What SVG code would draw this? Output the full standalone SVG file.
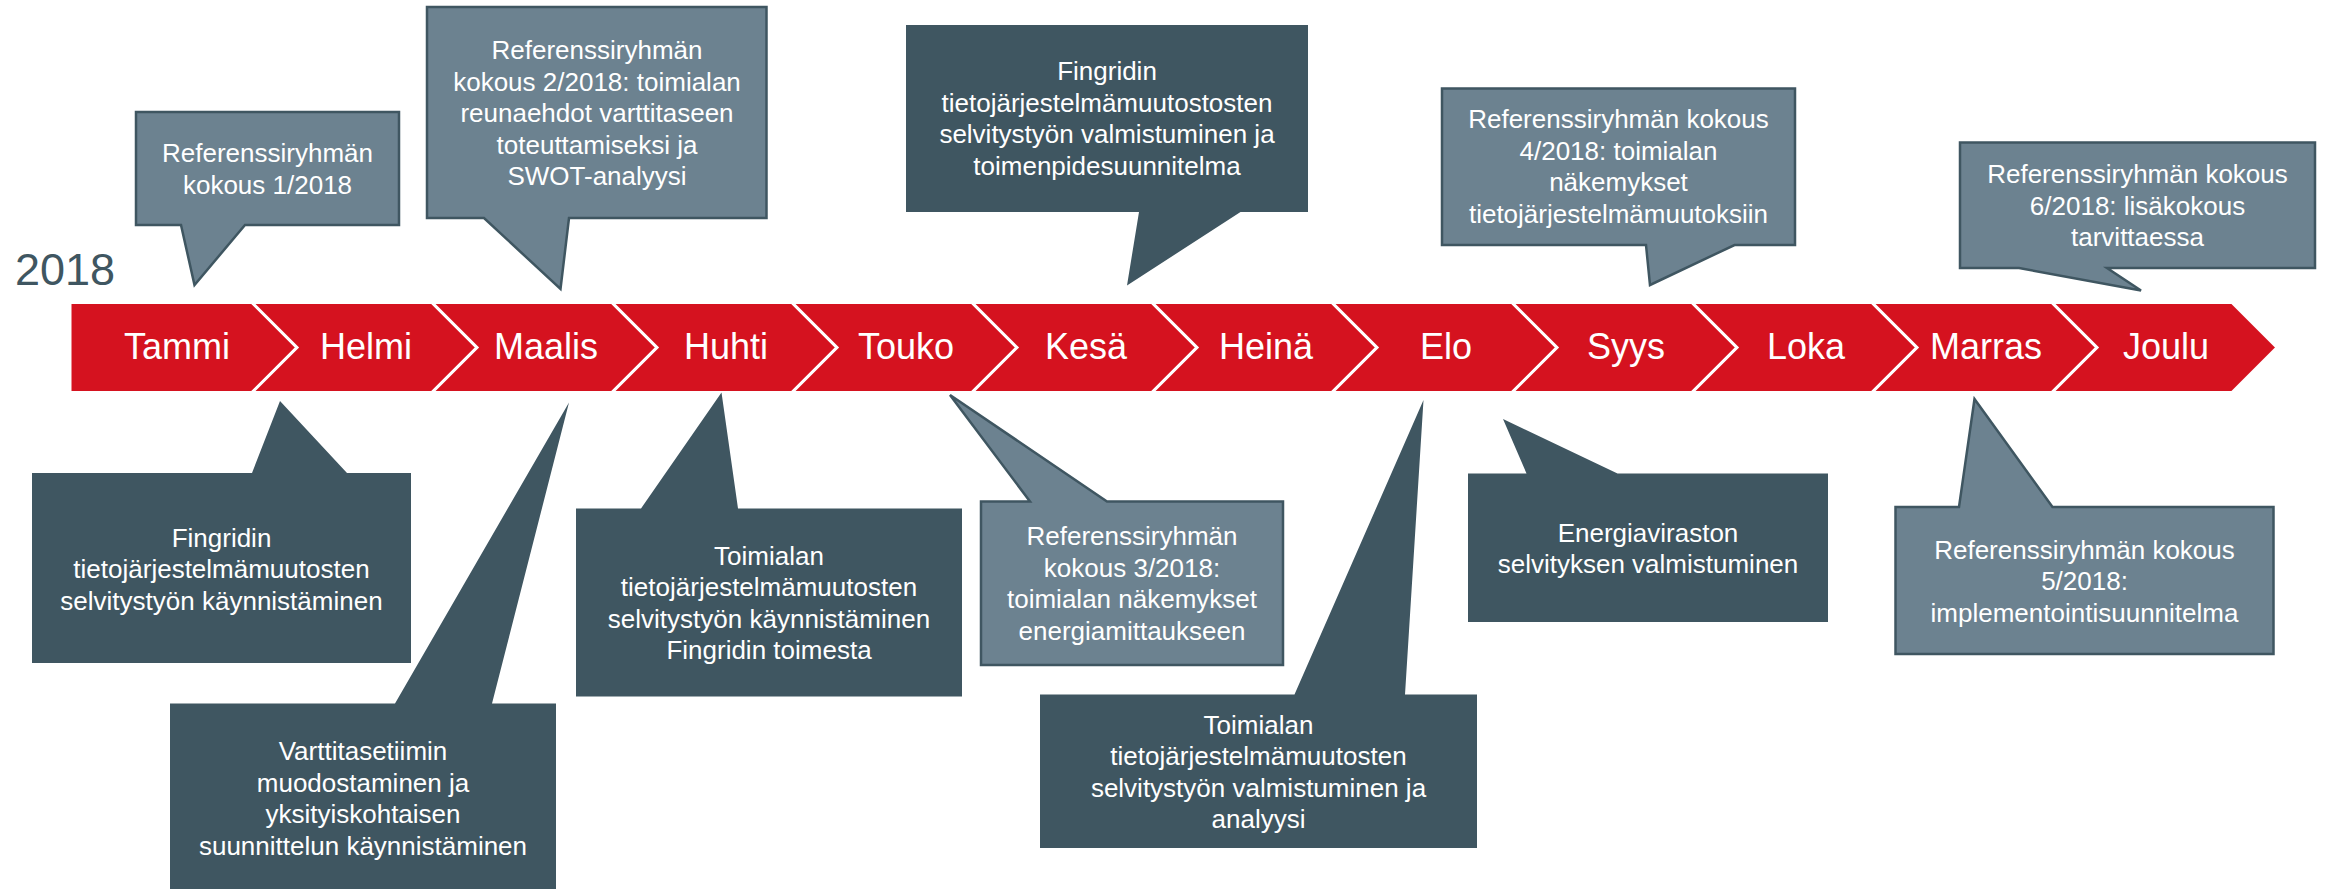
<svg xmlns="http://www.w3.org/2000/svg" width="2325" height="889" viewBox="0 0 2325 889">
<style>
.month{fill:#D5121F;stroke:#FFFFFF;stroke-width:3;stroke-linejoin:miter}
.mtxt{font-family:"Liberation Sans",Arial,sans-serif;font-size:36px;fill:#FFFFFF;text-anchor:middle}
.dark{fill:#3F5661}
.light{fill:#6C8290;stroke:#3F5661;stroke-width:2.5}
.ctxt{font-family:"Liberation Sans",Arial,sans-serif;font-size:26px;fill:#FFFFFF;text-anchor:middle}
.year{font-family:"Liberation Sans",Arial,sans-serif;font-size:45px;fill:#3F5661}
</style>
<rect width="2325" height="889" fill="#FFFFFF"/>
<text class="year" x="15" y="285">2018</text>

<g id="timeline">
  <g id="m01"><polygon class="month" points="70,302.5 252,302.5 297,347.5 252,392.5 70,392.5"/><text class="mtxt" x="177" y="359">Tammi</text></g>
  <g id="m02"><polygon class="month" points="252,302.5 432,302.5 477,347.5 432,392.5 252,392.5 297,347.5"/><text class="mtxt" x="366" y="359">Helmi</text></g>
  <g id="m03"><polygon class="month" points="432,302.5 612,302.5 657,347.5 612,392.5 432,392.5 477,347.5"/><text class="mtxt" x="546" y="359">Maalis</text></g>
  <g id="m04"><polygon class="month" points="612,302.5 792,302.5 837,347.5 792,392.5 612,392.5 657,347.5"/><text class="mtxt" x="726" y="359">Huhti</text></g>
  <g id="m05"><polygon class="month" points="792,302.5 972,302.5 1017,347.5 972,392.5 792,392.5 837,347.5"/><text class="mtxt" x="906" y="359">Touko</text></g>
  <g id="m06"><polygon class="month" points="972,302.5 1152,302.5 1197,347.5 1152,392.5 972,392.5 1017,347.5"/><text class="mtxt" x="1086" y="359">Kesä</text></g>
  <g id="m07"><polygon class="month" points="1152,302.5 1332,302.5 1377,347.5 1332,392.5 1152,392.5 1197,347.5"/><text class="mtxt" x="1266" y="359">Heinä</text></g>
  <g id="m08"><polygon class="month" points="1332,302.5 1512,302.5 1557,347.5 1512,392.5 1332,392.5 1377,347.5"/><text class="mtxt" x="1446" y="359">Elo</text></g>
  <g id="m09"><polygon class="month" points="1512,302.5 1692,302.5 1737,347.5 1692,392.5 1512,392.5 1557,347.5"/><text class="mtxt" x="1626" y="359">Syys</text></g>
  <g id="m10"><polygon class="month" points="1692,302.5 1872,302.5 1917,347.5 1872,392.5 1692,392.5 1737,347.5"/><text class="mtxt" x="1806" y="359">Loka</text></g>
  <g id="m11"><polygon class="month" points="1872,302.5 2052,302.5 2097,347.5 2052,392.5 1872,392.5 1917,347.5"/><text class="mtxt" x="1986" y="359">Marras</text></g>
  <g id="m12"><polygon class="month" points="2052,302.5 2232,302.5 2277,347.5 2232,392.5 2052,392.5 2097,347.5"/><text class="mtxt" x="2166" y="359">Joulu</text></g>
</g>

<g id="connectors"></g>

<!-- top callouts -->
<g id="c-ref1">
  <path class="light" d="M136,112 H399 V225 H245 L194.5,285 L181,225 H136 Z"/>
  <text class="ctxt" x="267.5" y="162">Referenssiryhmän</text>
  <text class="ctxt" x="267.5" y="193.5">kokous 1/2018</text>
</g>
<g id="c-ref2">
  <path class="light" d="M427,7 H766.5 V218 H569 L560.5,289 L484,218 H427 Z"/>
  <text class="ctxt" x="597" y="59">Referenssiryhmän</text>
  <text class="ctxt" x="597" y="90.5">kokous 2/2018: toimialan</text>
  <text class="ctxt" x="597" y="122">reunaehdot varttitaseen</text>
  <text class="ctxt" x="597" y="153.5">toteuttamiseksi ja</text>
  <text class="ctxt" x="597" y="185">SWOT-analyysi</text>
</g>
<g id="c-fingrid-valm">
  <path class="dark" d="M906,25 H1308 V212 H1240.5 L1127,285.5 L1139,212 H906 Z"/>
  <text class="ctxt" x="1107" y="80">Fingridin</text>
  <text class="ctxt" x="1107" y="111.5">tietojärjestelmämuutostosten</text>
  <text class="ctxt" x="1107" y="143">selvitystyön valmistuminen ja</text>
  <text class="ctxt" x="1107" y="174.5">toimenpidesuunnitelma</text>
</g>
<g id="c-ref4">
  <path class="light" d="M1442,88.5 H1795 V245 H1734.5 L1650,285 L1646,245 H1442 Z"/>
  <text class="ctxt" x="1618.5" y="128">Referenssiryhmän kokous</text>
  <text class="ctxt" x="1618.5" y="159.5">4/2018: toimialan</text>
  <text class="ctxt" x="1618.5" y="191">näkemykset</text>
  <text class="ctxt" x="1618.5" y="222.5">tietojärjestelmämuutoksiin</text>
</g>
<g id="c-ref6">
  <path class="light" d="M1960,142.5 H2315 V268 H2107 L2141,290.5 L2019,268 H1960 Z"/>
  <text class="ctxt" x="2137.5" y="183">Referenssiryhmän kokous</text>
  <text class="ctxt" x="2137.5" y="214.5">6/2018: lisäkokous</text>
  <text class="ctxt" x="2137.5" y="246">tarvittaessa</text>
</g>

<!-- bottom callouts -->
<g id="c-fingrid-kaynn">
  <path class="dark" d="M32,473 H252 L280,401 L347,473 H411 V663 H32 Z"/>
  <text class="ctxt" x="221.5" y="546.5">Fingridin</text>
  <text class="ctxt" x="221.5" y="578">tietojärjestelmämuutosten</text>
  <text class="ctxt" x="221.5" y="609.5">selvitystyön käynnistäminen</text>
</g>
<g id="c-varttitiimi">
  <path class="dark" d="M170,703.5 H395 L569,402.5 L492,703.5 H556 V889 H170 Z"/>
  <text class="ctxt" x="363" y="760">Varttitasetiimin</text>
  <text class="ctxt" x="363" y="791.5">muodostaminen ja</text>
  <text class="ctxt" x="363" y="823">yksityiskohtaisen</text>
  <text class="ctxt" x="363" y="854.5">suunnittelun käynnistäminen</text>
</g>
<g id="c-toimiala-kaynn">
  <path class="dark" d="M576,508.5 H641 L721.5,392.5 L738,508.5 H962 V696.5 H576 Z"/>
  <text class="ctxt" x="769" y="564.5">Toimialan</text>
  <text class="ctxt" x="769" y="596">tietojärjestelmämuutosten</text>
  <text class="ctxt" x="769" y="627.5">selvitystyön käynnistäminen</text>
  <text class="ctxt" x="769" y="659">Fingridin toimesta</text>
</g>
<g id="c-ref3">
  <path class="light" d="M981,501.5 H1030 L950,395 L1107,501.5 H1283 V665 H981 Z"/>
  <text class="ctxt" x="1132" y="545">Referenssiryhmän</text>
  <text class="ctxt" x="1132" y="576.5">kokous 3/2018:</text>
  <text class="ctxt" x="1132" y="608">toimialan näkemykset</text>
  <text class="ctxt" x="1132" y="639.5">energiamittaukseen</text>
</g>
<g id="c-toimiala-valm">
  <path class="dark" d="M1040,694.5 H1294.5 L1423.5,400 L1405,694.5 H1477 V848 H1040 Z"/>
  <text class="ctxt" x="1258.5" y="733.5">Toimialan</text>
  <text class="ctxt" x="1258.5" y="765">tietojärjestelmämuutosten</text>
  <text class="ctxt" x="1258.5" y="796.5">selvitystyön valmistuminen ja</text>
  <text class="ctxt" x="1258.5" y="828">analyysi</text>
</g>
<g id="c-energiavirasto">
  <path class="dark" d="M1468,473.5 H1526.5 L1503,419 L1617.5,473.5 H1828 V622 H1468 Z"/>
  <text class="ctxt" x="1648" y="541.5">Energiaviraston</text>
  <text class="ctxt" x="1648" y="573">selvityksen valmistuminen</text>
</g>
<g id="c-ref5">
  <path class="light" d="M1895.5,507 H1959 L1974.5,399 L2052.5,507 H2273.5 V654 H1895.5 Z"/>
  <text class="ctxt" x="2084.5" y="558.5">Referenssiryhmän kokous</text>
  <text class="ctxt" x="2084.5" y="590">5/2018:</text>
  <text class="ctxt" x="2084.5" y="621.5">implementointisuunnitelma</text>
</g>
</svg>
